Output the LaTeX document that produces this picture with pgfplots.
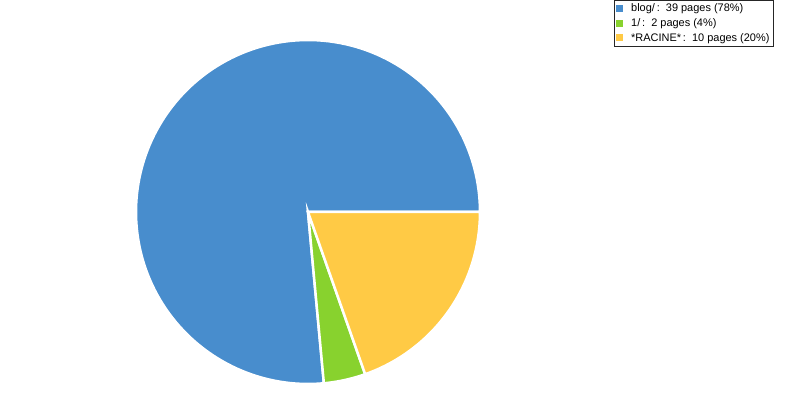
\documentclass[border=0pt]{standalone}
\usepackage{pgfplots}
\usepackage{pgfplotstable}
\pgfplotsset{compat=1.18}
\usepackage{fontspec}
\setmainfont{Liberation Sans}
\definecolor{pieblue}{RGB}{72,141,205}
\definecolor{piegreen}{RGB}{136,210,46}
\definecolor{pieyellow}{RGB}{255,202,69}
\pgfplotstableread{
label value
blog 39
one 2
racine 10
}\piedata
\begin{document}
\begin{tikzpicture}
\pgfplotstablegetelem{0}{value}\of\piedata\let\va\pgfplotsretval
\pgfplotstablegetelem{1}{value}\of\piedata\let\vb\pgfplotsretval
\pgfplotstablegetelem{2}{value}\of\piedata\let\vc\pgfplotsretval
\pgfmathsetmacro{\tot}{\va+\vb+\vc}
\pgfmathsetmacro{\aa}{360*\va/\tot}
\pgfmathsetmacro{\ab}{360*(\va+\vb)/\tot}
\begin{axis}[
  at={(0,0)}, anchor=south west,
  scale only axis, width=800bp, height=400bp,
  xmin=0, xmax=800, ymin=0, ymax=400,
  hide axis, ticks=none, clip=false,
  legend style={at={(axis cs:614,400)}, anchor=north west,
    draw=black!85, line width=0.8bp,
    font=\fontsize{11}{13}\selectfont,
    inner xsep=2bp, inner ysep=1.5bp, row sep=1.2bp,
    cells={anchor=west}},
  legend cell align=left,
]
\addplot[fill=pieblue, draw=white, line width=2.5bp, domain=0:\aa, samples=150, forget plot]
  ({308+172*cos(x)},{188+172*sin(x)}) -- (axis cs:308,188) -- cycle;
\addplot[fill=piegreen, draw=white, line width=2.5bp, domain=\aa:\ab, samples=20, forget plot]
  ({308+172*cos(x)},{188+172*sin(x)}) -- (axis cs:308,188) -- cycle;
\addplot[fill=pieyellow, draw=white, line width=2.5bp, domain=\ab:360, samples=60, forget plot]
  ({308+172*cos(x)},{188+172*sin(x)}) -- (axis cs:308,188) -- cycle;
\addlegendimage{legend image code/.code={\fill[pieblue] (1bp,-3bp) rectangle (7bp,3bp); \path (13bp,0);}}
\addlegendentry{blog/\,:~~39 pages (78\%)}
\addlegendimage{legend image code/.code={\fill[piegreen] (1bp,-3bp) rectangle (7bp,3bp); \path (13bp,0);}}
\addlegendentry{1/\,:~~2 pages (4\%)}
\addlegendimage{legend image code/.code={\fill[pieyellow] (1bp,-3bp) rectangle (7bp,3bp); \path (13bp,0);}}
\addlegendentry{*RACINE*\,:~~10 pages (20\%)}
\end{axis}
\pgfresetboundingbox
\useasboundingbox (0,0) rectangle (800bp,400bp);
\end{tikzpicture}
\end{document}
